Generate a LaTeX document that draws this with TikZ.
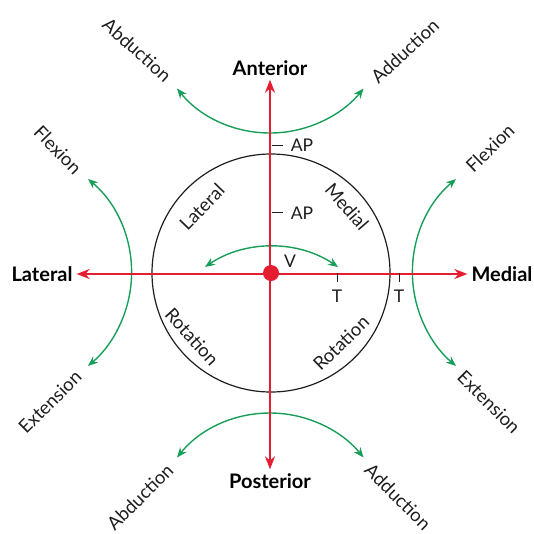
\documentclass[tikz,border=0pt]{standalone}
\usepackage{fontspec}
\setmainfont{Lato}
\usepackage{xcolor}
\usetikzlibrary{arrows.meta,positioning}
\definecolor{axisred}{RGB}{228,30,48}
\definecolor{swinggreen}{RGB}{24,158,88}
\definecolor{inkgray}{RGB}{30,30,30}

\begin{document}
\begin{tikzpicture}[x=1pt, y=-1pt,
    dir/.style={font=\fontsize{20}{23}\selectfont\bfseries, text=black, inner sep=4pt},
    move/.style={font=\fontsize{18.5}{21}\selectfont, text=inkgray, inner sep=1pt},
    tag/.style={font=\fontsize{17.5}{20}\selectfont, text=inkgray, inner sep=1pt},
    ring/.style={draw=inkgray, line width=1.2pt},
    axis/.style={draw=axisred, line width=2.4pt,
                 {Stealth[length=13pt,width=10pt]}-{Stealth[length=13pt,width=10pt]}},
    swing/.style={draw=swinggreen, line width=1.4pt,
                  {Stealth[length=10pt,width=8pt]}-{Stealth[length=10pt,width=8pt]}},
    tick/.style={draw=inkgray, line width=1pt},
    dot/.style={circle, fill=axisred, minimum size=16pt, inner sep=0pt}
]
\useasboundingbox (0,0) rectangle (534,533);
\coordinate (o) at (271,273);

\node[dir] (ant)  at (270,68)  {Anterior};
\node[dir] (post) at (270,481) {Posterior};
\node[dir] (lat)  at (42,274)  {Lateral};
\node[dir] (med)  at (502,274) {Medial};

\node[move, rotate=-42] (abdtop) at (137,50)  {Abduction};
\node[move, rotate=43]  (addtop) at (405,51)  {Adduction};
\node[move, rotate=-46] (flexl)  at (58,150)  {Flexion};
\node[move, rotate=45]  (extl)   at (50,402)  {Extension};
\node[move, rotate=44]  (flexr)  at (490,148) {Flexion};
\node[move, rotate=-45] (extr)   at (489,402) {Extension};
\node[move, rotate=45]  (abdbot) at (140,497) {Abduction};
\node[move, rotate=-45] (addbot) at (398,497) {Adduction};

\draw[ring] (o) circle[radius=119];
\node[move, rotate=46]  (latrim) at (202,207) {Lateral};
\node[move, rotate=-49] (medrim) at (347,207) {Medial};
\node[move, rotate=-48] (rotl)   at (192,337) {Rotation};
\node[move, rotate=44]  (rotr)   at (341,343) {Rotation};

\draw[swing] (177,88.5) arc[start angle=141, end angle=39, radius=120];
\draw[swing] (177,457.5) arc[start angle=219, end angle=321, radius=120];
\draw[swing] (88,179) arc[start angle=-50, end angle=50, radius=122];
\draw[swing] (456,179) arc[start angle=230, end angle=130, radius=122];
\draw[swing] (205,267) arc[start angle=-124, end angle=-56, radius=119];

\draw[axis] (lat) -- (med);
\draw[axis] (ant) -- (post);

\draw[tick] (272,145) -- (283,145);
\draw[tick] (272,212) -- (283,212);
\draw[tick] (337,273) -- (337,282);
\draw[tick] (399,273) -- (399,282);
\node[tag] (ap1) at (302,145) {AP};
\node[tag] (ap2) at (302,213) {AP};
\node[tag] (v)   at (290,261) {V};
\node[tag] (t1)  at (337,296) {T};
\node[tag] (t2)  at (399,296) {T};

\node[dot] (c) at (o) {};
\end{tikzpicture}
\end{document}
